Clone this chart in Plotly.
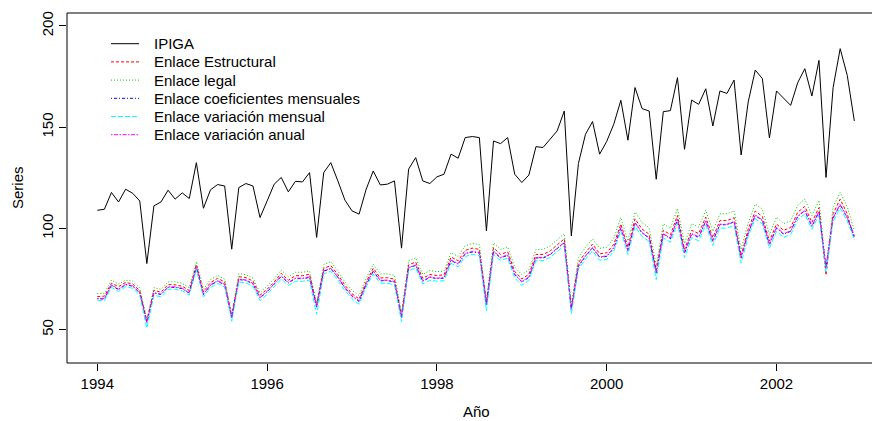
import plotly.graph_objects as go

# Monthly index, January 1994 to December 2002
start_year = 1994
n_months = 108
time = [start_year + i / 12 for i in range(n_months)]

ipiga = [
    109.0, 109.5, 117.8, 113.1, 119.4, 117.4, 113.6, 82.7, 111.2, 113.1, 118.9, 114.5,
    117.6, 114.8, 132.5, 110.0, 119.1, 121.7, 121.0, 89.8, 120.2, 122.2, 121.0, 105.4,
    113.6, 121.9, 125.2, 118.1, 123.3, 123.0, 127.6, 95.6, 127.6, 132.5, 123.5, 114.0,
    108.7, 107.1, 119.4, 128.4, 121.5, 121.9, 123.5, 90.3, 129.3, 135.0, 123.5, 122.2,
    125.5, 126.8, 136.7, 134.7, 144.9, 145.4, 144.9, 98.8, 143.2, 141.9, 144.9, 126.8,
    122.7, 126.4, 140.4, 140.0, 144.1, 148.2, 158.0, 96.4, 132.1, 146.5, 152.8, 136.7,
    143.0, 151.5, 163.3, 143.6, 169.6, 159.2, 158.0, 124.3, 157.7, 158.2, 174.5, 139.1,
    163.4, 161.3, 169.0, 150.6, 167.9, 166.7, 173.3, 136.3, 162.5, 178.2, 174.0, 144.7,
    167.9, 164.3, 160.8, 172.0, 178.9, 165.4, 183.0, 125.2, 169.6, 188.8, 175.6, 153.1,
]

enlace_estructural = [
    66.4, 66.6, 73.0, 71.3, 73.4, 72.6, 69.3, 54.5, 69.5, 68.6, 72.3, 72.2,
    71.5, 69.4, 82.2, 68.7, 73.3, 75.4, 73.6, 56.8, 76.2, 75.8, 74.0, 67.1,
    70.0, 73.6, 77.9, 74.5, 76.7, 76.7, 77.4, 62.3, 80.3, 81.7, 77.3, 72.0,
    67.8, 65.2, 73.6, 80.4, 75.6, 75.7, 75.0, 57.1, 82.1, 83.4, 75.4, 77.3,
    76.8, 77.1, 85.9, 84.1, 89.2, 90.3, 89.7, 63.5, 90.5, 87.2, 88.5, 78.8,
    75.1, 77.4, 87.2, 87.2, 88.9, 92.0, 94.9, 60.9, 83.1, 88.1, 92.3, 87.5,
    88.0, 92.2, 102.2, 90.8, 104.8, 99.7, 97.2, 79.2, 99.2, 96.9, 106.4, 89.7,
    99.1, 97.5, 105.6, 95.5, 103.9, 103.9, 105.3, 86.6, 99.7, 108.6, 105.9, 93.8,
    102.2, 99.1, 100.5, 108.0, 110.9, 103.0, 110.3, 77.0, 107.3, 114.5, 107.2, 94.5,
]

enlace_legal = [
    67.9, 68.0, 74.5, 72.6, 74.5, 74.0, 70.6, 55.0, 70.8, 70.0, 73.6, 73.7,
    72.9, 70.8, 83.7, 70.0, 74.8, 76.8, 75.0, 57.5, 77.7, 77.2, 75.5, 68.3,
    71.5, 75.2, 79.5, 76.2, 78.4, 78.4, 79.0, 63.0, 82.2, 83.6, 79.1, 73.6,
    69.5, 66.9, 75.4, 82.4, 77.6, 77.6, 76.9, 58.4, 84.2, 85.5, 77.3, 79.3,
    78.7, 79.0, 88.0, 86.3, 91.5, 92.6, 92.1, 64.9, 92.9, 89.6, 91.0, 81.0,
    77.2, 79.6, 89.6, 89.7, 91.4, 94.6, 97.5, 62.5, 85.5, 90.7, 95.0, 90.2,
    90.8, 95.1, 105.5, 93.8, 108.1, 102.9, 100.4, 81.7, 102.4, 100.0, 109.9, 92.6,
    102.4, 100.7, 109.0, 98.6, 107.2, 107.3, 108.7, 89.8, 102.9, 112.1, 109.4, 97.0,
    105.6, 102.4, 103.8, 111.5, 114.5, 106.4, 113.9, 80.5, 110.7, 117.8, 110.7, 99.0,
]

enlace_coef_mensuales = [
    65.3, 65.2, 72.0, 69.8, 72.3, 71.5, 68.2, 53.3, 68.1, 67.4, 71.0, 70.9,
    70.3, 68.1, 80.8, 67.4, 72.0, 74.0, 72.2, 55.8, 74.8, 74.4, 72.6, 65.8,
    68.7, 72.3, 76.4, 73.1, 75.3, 75.2, 75.8, 61.2, 78.9, 80.2, 75.9, 70.6,
    66.5, 64.0, 72.3, 78.9, 74.2, 74.3, 73.5, 56.1, 80.6, 81.8, 73.9, 75.9,
    75.3, 75.5, 84.2, 82.4, 87.5, 88.4, 87.9, 62.4, 88.7, 85.4, 86.8, 77.2,
    73.6, 75.8, 85.5, 85.4, 87.0, 90.1, 92.8, 59.9, 81.3, 86.3, 90.3, 85.8,
    86.2, 90.3, 100.3, 89.0, 102.8, 97.7, 95.4, 78.0, 97.3, 94.9, 104.4, 87.9,
    97.3, 95.6, 103.6, 93.6, 101.9, 101.8, 103.3, 85.4, 97.8, 106.4, 103.9, 92.0,
    100.3, 97.2, 98.6, 105.9, 108.8, 101.0, 108.2, 80.7, 105.2, 111.7, 105.2, 96.1,
]

enlace_var_mensual = [
    64.6, 64.3, 71.0, 68.9, 71.3, 70.5, 67.1, 50.8, 67.0, 66.3, 70.0, 70.0,
    69.3, 67.1, 79.8, 66.2, 70.9, 72.9, 71.1, 54.2, 73.6, 73.2, 71.5, 64.4,
    67.4, 71.0, 75.1, 71.8, 74.0, 73.9, 74.5, 57.6, 77.6, 78.9, 74.6, 69.3,
    65.3, 62.6, 71.1, 77.6, 73.0, 73.0, 72.2, 54.0, 79.2, 80.5, 72.6, 74.5,
    74.0, 74.2, 82.8, 81.1, 86.2, 87.2, 86.6, 59.4, 87.3, 84.1, 85.5, 75.6,
    71.9, 74.5, 84.1, 84.1, 85.7, 88.7, 91.5, 58.0, 80.0, 84.9, 89.0, 84.3,
    84.7, 88.8, 98.8, 87.2, 101.0, 96.0, 93.7, 74.8, 95.4, 93.2, 102.6, 85.6,
    95.6, 93.9, 101.8, 91.6, 100.2, 100.2, 101.6, 82.9, 96.1, 104.8, 102.2, 90.3,
    98.6, 95.6, 97.0, 104.4, 107.2, 99.6, 106.6, 78.5, 103.5, 110.1, 103.6, 94.6,
]

enlace_var_anual = [
    65.5, 65.5, 72.2, 70.1, 72.5, 71.7, 68.4, 53.6, 68.4, 67.6, 71.2, 71.2,
    70.5, 68.4, 81.1, 67.6, 72.2, 74.2, 72.5, 56.1, 75.0, 74.6, 72.9, 66.0,
    68.9, 72.5, 76.6, 73.4, 75.5, 75.5, 76.1, 61.5, 79.1, 80.4, 76.1, 70.9,
    66.8, 64.3, 72.5, 79.1, 74.5, 74.5, 73.8, 56.4, 80.8, 82.0, 74.2, 76.1,
    75.5, 75.8, 84.4, 82.7, 87.7, 88.7, 88.2, 62.7, 88.9, 85.7, 87.0, 77.5,
    73.8, 76.1, 85.7, 85.7, 87.3, 90.3, 93.1, 60.2, 81.6, 86.5, 90.6, 86.0,
    86.5, 90.6, 100.5, 89.3, 103.0, 98.0, 95.6, 78.3, 97.5, 95.2, 104.6, 88.2,
    97.5, 95.9, 103.8, 93.9, 102.1, 102.1, 103.5, 85.7, 98.0, 106.7, 104.1, 92.3,
    100.5, 97.5, 98.8, 106.2, 109.0, 101.3, 108.4, 81.0, 105.4, 112.0, 105.4, 96.4,
]

x_ticks = [1994, 1996, 1998, 2000, 2002]
y_ticks = [50, 100, 150, 200]

series = [
    ("IPIGA", ipiga, "black", "solid"),
    ("Enlace Estructural", enlace_estructural, "#ff0000", "3px,2px"),
    ("Enlace legal", enlace_legal, "#00cd00", "1px,2px"),
    ("Enlace coeficientes mensuales", enlace_coef_mensuales, "#0000ff", "1px,2px,3px,2px"),
    ("Enlace variación mensual", enlace_var_mensual, "#00ffff", "5px,2px"),
    ("Enlace variación anual", enlace_var_anual, "#ff00ff", "1.5px,1.5px,4px,1.5px"),
]

FONT = "Liberation Sans, Arial, Helvetica, sans-serif"

fig = go.Figure()
for name, values, color, dash in series:
    fig.add_trace(go.Scatter(
        x=time, y=values, mode="lines", name=name,
        line=dict(color=color, width=1, dash=dash),
        showlegend=False,
    ))

# Plot region in pixels (figure is 872 x 421)
W, H = 872, 421
left, top, bottom = 67, 13, 58
plot_w = W - left
plot_h = H - top - bottom
px_per_year = 84.9
x_min = 1993.643
x_max = x_min + plot_w / px_per_year

shapes = [
    # box around the plot region (right side runs off the canvas)
    dict(type="rect", xref="paper", yref="paper", x0=0, x1=1.1, y0=0, y1=1,
         line=dict(color="black", width=1), fillcolor="rgba(0,0,0,0)", layer="above"),
]
annotations = []

# Legend drawn inside the plot, top-left, without a border
row0, row_gap = 43.7, 18.2
line_x0, line_x1, text_x = 111, 139, 152
for i, (name, values, color, dash) in enumerate(series):
    yp = (H - bottom - (row0 + i * row_gap)) / plot_h
    shapes.append(dict(
        type="line", xref="paper", yref="paper",
        x0=(line_x0 - left) / plot_w, x1=(line_x1 - left) / plot_w, y0=yp, y1=yp,
        line=dict(color=color, width=1, dash=dash),
    ))
    annotations.append(dict(
        xref="paper", yref="paper", x=(text_x - left) / plot_w, y=yp,
        text=name, showarrow=False, xanchor="left", yanchor="middle",
        font=dict(family=FONT, size=15, color="black"),
    ))

# Axis titles
annotations.append(dict(
    xref="paper", yref="paper", x=(476 - left) / plot_w, y=0, yshift=-48,
    text="Año", showarrow=False, xanchor="center", yanchor="middle",
    font=dict(family=FONT, size=15, color="black"),
))
annotations.append(dict(
    xref="paper", yref="paper", x=0, xshift=-50, y=0.5,
    text="Series", showarrow=False, textangle=-90, xanchor="center", yanchor="middle",
    font=dict(family=FONT, size=15, color="black"),
))

fig.update_layout(
    width=W, height=H,
    margin=dict(l=left, r=0, t=top, b=bottom, pad=0),
    paper_bgcolor="white", plot_bgcolor="white",
    font=dict(family=FONT, size=15, color="black"),
    shapes=shapes, annotations=annotations,
    xaxis=dict(
        range=[x_min, x_max], tickvals=x_ticks, ticktext=[str(t) for t in x_ticks],
        ticks="outside", ticklen=7, tickwidth=1, tickcolor="black",
        showgrid=False, zeroline=False, showline=False,
        tickfont=dict(family=FONT, size=15, color="black"),
    ),
    yaxis=dict(
        range=[33.6, 206.4], tickvals=y_ticks, ticktext=[str(t) for t in y_ticks],
        ticks="outside", ticklen=7, tickwidth=1, tickcolor="black",
        tickangle=-90, showgrid=False, zeroline=False, showline=False,
        tickfont=dict(family=FONT, size=15, color="black"),
    ),
)

fig.write_html("out.html")
